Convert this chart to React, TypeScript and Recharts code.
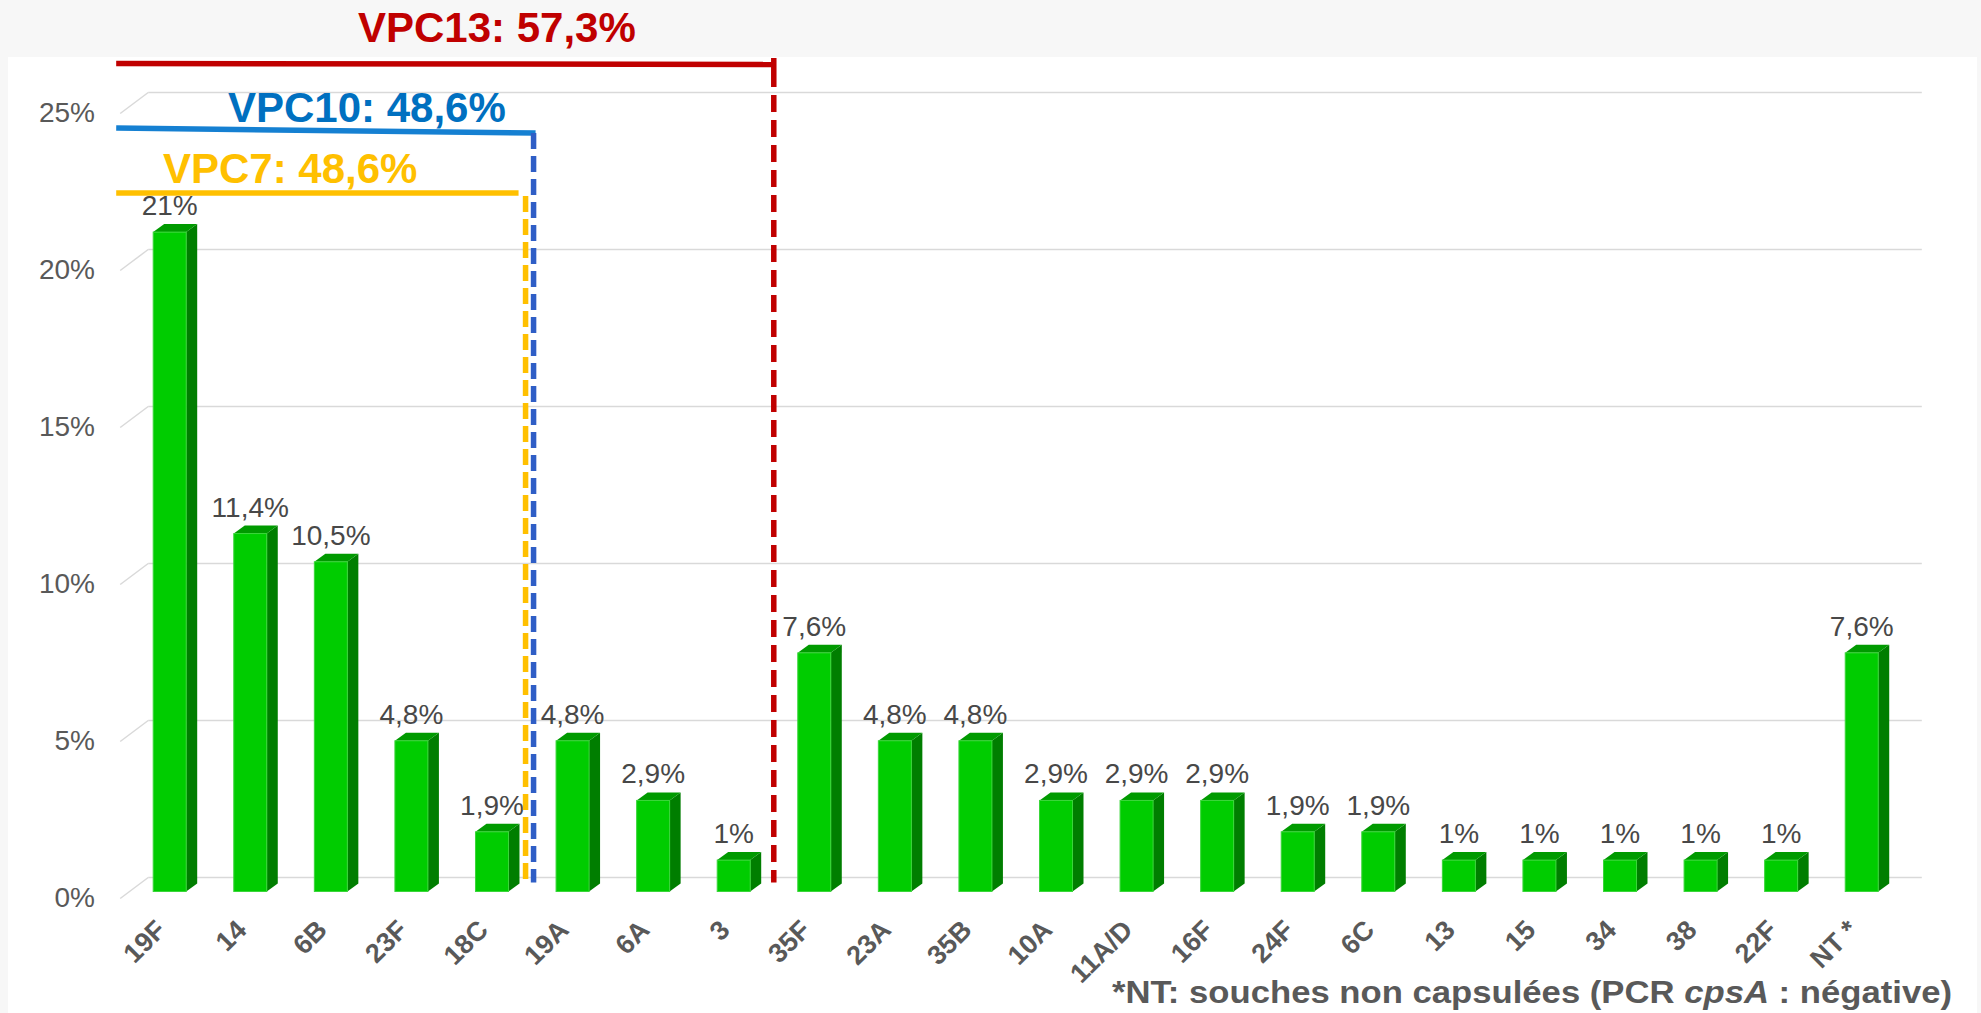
import React from 'react';
import { BarChart, Bar, XAxis, YAxis, CartesianGrid, LabelList } from 'recharts';

const categories = ['19F', '14', '6B', '23F', '18C', '19A', '6A', '3', '35F', '23A', '35B', '10A', '11A/D', '16F', '24F', '6C', '13', '15', '34', '38', '22F', 'NT *'];
const shares = [21, 11.4, 10.5, 4.8, 1.9, 4.8, 2.9, 1, 7.6, 4.8, 4.8, 2.9, 2.9, 2.9, 1.9, 1.9, 1, 1, 1, 1, 1, 7.6];
const yTicks = [0, 5, 10, 15, 20, 25];
const vaccineLabels = ['VPC7: 48,6%', 'VPC10: 48,6%', 'VPC13: 57,3%'];
const vaccineLastIndex = [4, 4, 7];
const footnoteParts = ['*NT: souches non capsulées (PCR ', 'cpsA', ' : négative)'];

const data = categories.map((c, i) => ({ name: c, value: shares[i] }));

const W = 1981;
const H = 1013;
const PLOT = { top: 106.5, right: 79.2, bottom: 121.5, left: 129.2 };
const plotW = W - PLOT.left - PLOT.right;
const band = plotW / categories.length;
const FONT = '"Liberation Sans", Arial, Helvetica, sans-serif';
const DEPTH_X = 11;
const DEPTH_Y = 8;

const fmt = (v: number) => `${String(v).replace('.', ',')}%`;

const Bar3D = (props: any) => {
  const { x, y, width, height } = props;
  if (height == null || width == null) return null;
  const r = x + width;
  const b = y + height;
  return (
    <g>
      <polygon
        points={`${r},${y} ${r + DEPTH_X},${y - DEPTH_Y} ${r + DEPTH_X},${b - DEPTH_Y} ${r},${b}`}
        fill="#007E00"
      />
      <polygon
        points={`${x},${y} ${x + DEPTH_X},${y - DEPTH_Y} ${r + DEPTH_X},${y - DEPTH_Y} ${r},${y}`}
        fill="#009A00"
      />
      <rect x={x} y={y} width={width} height={height} fill="#00CC00" stroke="#3ad63a" strokeWidth={1} />
    </g>
  );
};

const GridLine3D = (props: any) => {
  const { x1, y1, x2 } = props;
  const backY = y1 - 14;
  return (
    <g key={props.key}>
      <line x1={x1 - 9} y1={y1 + 7} x2={x1 + 19} y2={backY} stroke="#D9D9D9" strokeWidth={1.5} />
      <line x1={x1 + 19} y1={backY} x2={x2 + 20} y2={backY} stroke="#D9D9D9" strokeWidth={1.5} />
    </g>
  );
};

const YTick = (props: any) => {
  const { y, payload } = props;
  return (
    <text x={95} y={y + 15} textAnchor="end" fontSize={28} fill="#595959" fontFamily={FONT}>
      {`${payload.value}%`}
    </text>
  );
};

const XTick = (props: any) => {
  const { x, y, payload } = props;
  const ax = x - 2;
  const ay = y + 40;
  return (
    <text
      x={ax}
      y={ay}
      textAnchor="end"
      fontSize={27}
      fontWeight="bold"
      fill="#595959"
      fontFamily={FONT}
      transform={`rotate(-45, ${ax}, ${ay})`}
    >
      {payload.value}
    </text>
  );
};

const ValueLabel = (props: any) => {
  const { x, y, width, value } = props;
  return (
    <text x={x + width / 2} y={y - 17} textAnchor="middle" fontSize={28} fill="#484848" fontFamily={FONT}>
      {fmt(value)}
    </text>
  );
};

const Annotations = () => {
  const boundary = (i: number) => PLOT.left + (i + 1) * band;
  const startX = PLOT.left - 13;
  const bottomY = H - PLOT.bottom - 9;
  const red = boundary(vaccineLastIndex[2]);
  const blue = boundary(vaccineLastIndex[1]) + 1.5;
  const yellow = boundary(vaccineLastIndex[0]) - 6.5;
  return (
    <svg width={W} height={H} style={{ position: 'absolute', left: 0, top: 0, pointerEvents: 'none' }}>
      <text x={358} y={42} fontSize={42} fontWeight="bold" fill="#C00000" fontFamily={FONT}>
        {vaccineLabels[2]}
      </text>
      <line x1={startX} y1={63.5} x2={red} y2={64.5} stroke="#C00000" strokeWidth={5.5} />
      <line x1={red} y1={58} x2={red} y2={70} stroke="#C00000" strokeWidth={5.5} />
      <line x1={red} y1={70} x2={red} y2={bottomY} stroke="#C00000" strokeWidth={5.5} strokeDasharray="17 8" />
      <text x={228} y={122} fontSize={42} fontWeight="bold" fill="#0070C0" fontFamily={FONT}>
        {vaccineLabels[1]}
      </text>
      <line x1={startX} y1={128} x2={blue + 2} y2={133} stroke="#1580D2" strokeWidth={5.5} />
      <line x1={blue} y1={133} x2={blue} y2={bottomY} stroke="#2F5EC6" strokeWidth={5.5} strokeDasharray="16 7" />
      <text x={163} y={183} fontSize={42} fontWeight="bold" fill="#FFC000" fontFamily={FONT}>
        {vaccineLabels[0]}
      </text>
      <line x1={startX} y1={193} x2={yellow - 7} y2={193} stroke="#FFC000" strokeWidth={5.5} />
      <line x1={yellow} y1={196} x2={yellow} y2={bottomY} stroke="#FFC000" strokeWidth={5.5} strokeDasharray="16 7" />
      <text x={1112} y={1003} fontSize={32} fontWeight="bold" fill="#595959" fontFamily={FONT} textLength={840} lengthAdjust="spacingAndGlyphs">
        {footnoteParts[0]}
        <tspan fontStyle="italic">{footnoteParts[1]}</tspan>
        {footnoteParts[2]}
      </text>
    </svg>
  );
};

export default function App() {
  return (
    <div style={{ position: 'absolute', left: 0, top: 0, width: W, height: H, background: '#F7F7F7', overflow: 'hidden' }}>
      <div style={{ position: 'absolute', left: 8, top: 57, width: 1969, height: H - 57, background: '#FFFFFF' }} />
      <div style={{ position: 'absolute', left: 0, top: 0 }}>
        <BarChart
          width={W}
          height={H}
          data={data}
          margin={{ top: PLOT.top, right: PLOT.right, bottom: 0, left: 0 }}
          barCategoryGap={0}
        >
          <CartesianGrid vertical={false} horizontal={GridLine3D} />
          <XAxis
            dataKey="name"
            height={PLOT.bottom}
            axisLine={false}
            tickLine={false}
            tickSize={0}
            tickMargin={0}
            interval={0}
            tick={XTick}
          />
          <YAxis
            type="number"
            domain={[0, 25]}
            ticks={yTicks}
            width={PLOT.left}
            axisLine={false}
            tickLine={false}
            tickSize={0}
            tickMargin={0}
            tick={YTick}
          />
          <Bar dataKey="value" barSize={33} shape={Bar3D} isAnimationActive={false}>
            <LabelList dataKey="value" content={ValueLabel} />
          </Bar>
        </BarChart>
      </div>
      <Annotations />
    </div>
  );
}
